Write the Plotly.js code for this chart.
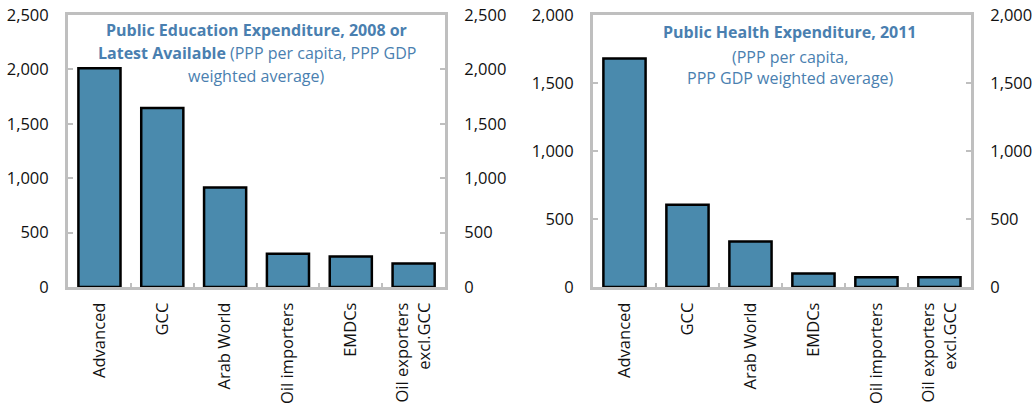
<!DOCTYPE html>
<html>
<head>
<meta charset="utf-8">
<script src="https://cdn.plot.ly/plotly-3.0.1.min.js"></script>
<style>html,body{margin:0;padding:0;background:#fff;}#chart{width:1034px;height:404px;}</style>
</head>
<body>
<div id="chart"></div>
<script>
// Data
const eduCategories = ["Advanced", "GCC", "Arab World", "Oil importers", "EMDCs", "Oil exporters<br>excl.GCC"];
const eduValues = [2010, 1645, 915, 305, 280, 215];
const healthCategories = ["Advanced", "GCC", "Arab World", "EMDCs", "Oil importers", "Oil exporters<br>excl.GCC"];
const healthValues = [1680, 605, 335, 100, 72, 72];
const eduTickVals = [0, 500, 1000, 1500, 2000, 2500];
const healthTickVals = [0, 500, 1000, 1500, 2000];

const barColor = "#4a8aad";
const gray = "#bfbfbf";
const titleColor = "#4a7fb0";
const fontFam = "Open Sans, Noto Sans, sans-serif";

const traces = [
  {type: "bar", x: eduCategories, y: eduValues, xaxis: "x", yaxis: "y",
   marker: {color: barColor, line: {color: "#000", width: 2.5}}, width: 0.67, hoverinfo: "skip"},
  {type: "scatter", mode: "markers", x: eduCategories, y: eduValues, xaxis: "x", yaxis: "y2",
   marker: {opacity: 0}, hoverinfo: "skip"},
  {type: "bar", x: healthCategories, y: healthValues, xaxis: "x2", yaxis: "y3",
   marker: {color: barColor, line: {color: "#000", width: 2.5}}, width: 0.67, hoverinfo: "skip"},
  {type: "scatter", mode: "markers", x: healthCategories, y: healthValues, xaxis: "x2", yaxis: "y4",
   marker: {opacity: 0}, hoverinfo: "skip"}
];

const xCommon = {
  type: "category", showline: true, linecolor: gray, linewidth: 3, mirror: true,
  ticks: "inside", tickson: "boundaries", ticklen: 4, tickwidth: 2, tickcolor: gray,
  tickangle: -90, showgrid: false, zeroline: false, ticklabelstandoff: 6,
  tickfont: {family: fontFam, size: 16.5, color: "#111"}, fixedrange: true
};
function yAxis(range, vals, side, domainX, overlay) {
  const a = {
    range: range, tickvals: vals, ticktext: vals.map(v => v.toLocaleString("en-US")),
    showline: true, linecolor: gray, linewidth: 3, ticks: "inside", ticklen: 5, tickwidth: 2,
    tickcolor: gray, showgrid: false, zeroline: false, side: side,
    tickfont: {family: fontFam, size: 16.5, color: "#111"}, ticklabelstandoff: 13,
    domain: [0.2896, 0.9629], fixedrange: true
  };
  if (overlay) a.overlaying = overlay;
  a.anchor = domainX;
  return a;
}

const layout = {
  width: 1034, height: 404,
  margin: {l: 0, r: 0, t: 0, b: 0},
  paper_bgcolor: "#fff", plot_bgcolor: "#fff",
  showlegend: false, bargap: 0.33,
  xaxis: Object.assign({}, xCommon, {domain: [0.0658, 0.4304], anchor: "y"}),
  xaxis2: Object.assign({}, xCommon, {domain: [0.5735, 0.939], anchor: "y3"}),
  yaxis: yAxis([0, 2500], eduTickVals, "left", "x"),
  yaxis2: yAxis([0, 2500], eduTickVals, "right", "x", "y"),
  yaxis3: yAxis([0, 2000], healthTickVals, "left", "x2"),
  yaxis4: yAxis([0, 2000], healthTickVals, "right", "x2", "y3"),
  annotations: [
    {text: "<b>Public Education Expenditure, 2008 or</b>", x: 0.2485, y: 0.9257},
    {text: "<b>Latest Available</b> (PPP per capita, PPP GDP", x: 0.2485, y: 0.8688},
    {text: "weighted average)", x: 0.2485, y: 0.8119},
    {text: "<b>Public Health Expenditure, 2011</b>", x: 0.7645, y: 0.9208},
    {text: "(PPP per capita,", x: 0.7645, y: 0.8589},
    {text: "PPP GDP weighted average)", x: 0.7645, y: 0.8069}
  ].map(a => Object.assign({xref: "paper", yref: "paper", xanchor: "center", yanchor: "middle",
    showarrow: false, font: {family: fontFam, size: 16, color: titleColor}}, a))
};

Plotly.newPlot("chart", traces, layout, {displayModeBar: false, staticPlot: true});
</script>
</body>
</html>
